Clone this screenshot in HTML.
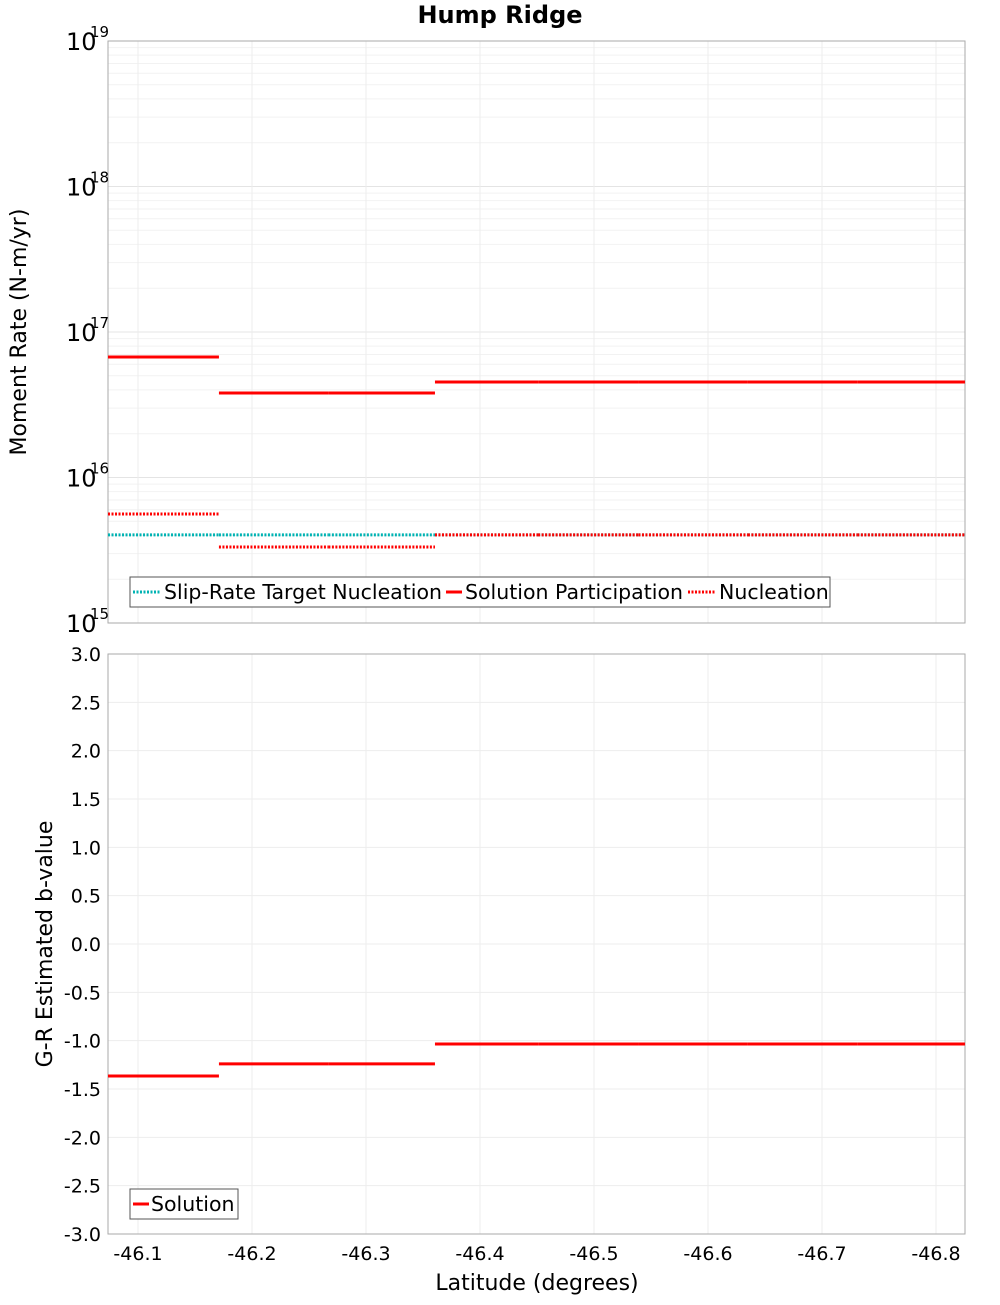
<!DOCTYPE html>
<html><head><meta charset="utf-8"><style>
body{margin:0;background:#fff;font-family:"Liberation Sans","DejaVu Sans",sans-serif}
svg text{font-family:"DejaVu Sans","Liberation Sans",sans-serif}
</style></head><body>
<svg id="c" width="1000" height="1300" xmlns="http://www.w3.org/2000/svg"></svg>
<script>
const bounds=[-46.0737,-46.171,-46.267,-46.3605,-46.451,-46.539,-46.635,-46.731,-46.8254];
const participation=[6.73e16,3.81e16,3.81e16,4.53e16,4.53e16,4.53e16,4.53e16,4.53e16];
const nucleation=[5.61e15,3.33e15,3.33e15,4.03e15,4.03e15,4.03e15,4.03e15,4.03e15];
const target=[4.03e15,4.03e15,4.03e15,4.03e15,4.03e15,4.03e15,4.03e15,4.03e15];
const bvalues=[-1.365,-1.24,-1.24,-1.034,-1.034,-1.034,-1.034,-1.034];
const xTicks=[-46.1,-46.2,-46.3,-46.4,-46.5,-46.6,-46.7,-46.8];
const bTicks=[3.0,2.5,2.0,1.5,1.0,0.5,0.0,-0.5,-1.0,-1.5,-2.0,-2.5,-3.0];
const decades=[15,16,17,18,19];

const svg=document.getElementById('c');const NS='http://www.w3.org/2000/svg';
function el(t,a,txt){const e=document.createElementNS(NS,t);for(const k in a)e.setAttribute(k,a[k]);if(txt!==undefined)e.textContent=txt;svg.appendChild(e);return e;}
const L=108,R=965,T1=41,B1=623,T2=654,B2=1234;
const xs=v=>138+(-46.1-v)*1140;
const ys1=v=>B1-(Math.log10(v)-15)*(B1-T1)/4;
const ys2=v=>T2+(3-v)*(B2-T2)/6;

for(const d of decades.slice(0,4)){for(let m=2;m<=9;m++){const y=ys1(m*Math.pow(10,d));const g=el('line',{x1:L,x2:R,y1:y,y2:y,stroke:'#f2f2f2','stroke-width':1});}}
for(const d of decades){const y=ys1(Math.pow(10,d));const g=el('line',{x1:L,x2:R,y1:y,y2:y,stroke:'#e4e4e4'});}
for(const t of xTicks){for(const [a,b] of [[T1,B1],[T2,B2]]){const g=el('line',{x1:xs(t),x2:xs(t),y1:a,y2:b,stroke:'#ededed'});}}
for(const t of bTicks){const g=el('line',{x1:L,x2:R,y1:ys2(t),y2:ys2(t),stroke:'#ededed'});}

for(const [a,b,n] of [[T1,B1,'top-plot-frame'],[T2,B2,'bottom-plot-frame']]){const f=el('rect',{x:L,y:a,width:R-L,height:b-a,fill:'none',stroke:'#aaa'});}

const ti=el('text',{x:500,y:23,'text-anchor':'middle','font-size':24,'font-weight':'bold'},'Hump Ridge');

for(const d of decades){const y=ys1(Math.pow(10,d));const t=el('text',{x:66,y:y+9,'font-size':24},'10');const s=el('text',{x:90,y:y-4,'font-size':15},String(d));}
const yt1=el('text',{x:26,y:332,'font-size':22,'text-anchor':'middle',transform:'rotate(-90 26 332)'},'Moment Rate (N-m/yr)');

for(const t of bTicks){const e=el('text',{x:101,y:ys2(t)+7,'font-size':19,'text-anchor':'end'},t.toFixed(1));}
const yt2=el('text',{x:52,y:944,'font-size':22,'text-anchor':'middle',transform:'rotate(-90 52 944)'},'G-R Estimated b-value');

for(const t of xTicks){const e=el('text',{x:xs(t),y:1260,'font-size':19,'text-anchor':'middle'},t.toFixed(1));}
const xt=el('text',{x:537,y:1290,'font-size':22,'text-anchor':'middle'},'Latitude (degrees)');

function series(vals,ys,color,dash,name){for(let i=0;i<vals.length;i++){const a={x1:xs(bounds[i]),x2:xs(bounds[i+1]),y1:ys(vals[i]),y2:ys(vals[i]),stroke:color,'stroke-width':3};if(dash)a['stroke-dasharray']='2,1.5';const l=el('line',a);}}
series(target,ys1,'#00b3b3',true,'target-nucleation-segment');
series(nucleation,ys1,'#ff0000',true,'nucleation-segment');
series(participation,ys1,'#ff0000',false,'participation-segment');
series(bvalues,ys2,'#ff0000',false,'b-value-segment');

const lg=el('rect',{x:130,y:577,width:700,height:30,fill:'#fff',stroke:'#555'});
const items=[[133,28,'#00b3b3',true,'Slip-Rate Target Nucleation'],[446,16,'#ff0000',false,'Solution Participation'],[688,28,'#ff0000',true,'Nucleation']];
for(const [x,w,c,d,txt] of items){const a={x1:x,x2:x+w,y1:592,y2:592,stroke:c,'stroke-width':3};if(d)a['stroke-dasharray']='2,1.5';const l=el('line',a);const t=el('text',{x:x+w+3,y:599,'font-size':20.5},txt);}
const lg2=el('rect',{x:130,y:1189,width:108,height:30,fill:'#fff',stroke:'#555'});
const l2=el('line',{x1:133,x2:149,y1:1204,y2:1204,stroke:'#ff0000','stroke-width':3});
const t2=el('text',{x:151,y:1211,'font-size':20.5},'Solution');
</script>
</body></html>
